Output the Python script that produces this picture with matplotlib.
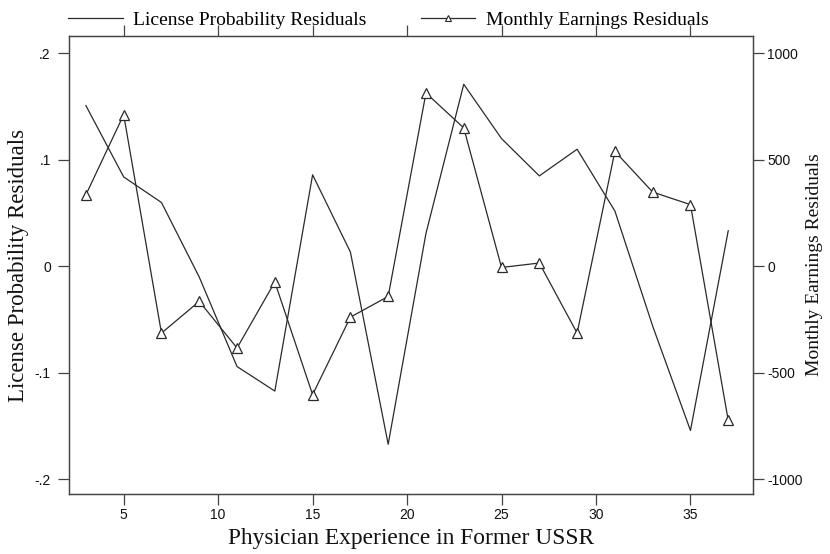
import numpy as np
import matplotlib.pyplot as plt
from matplotlib.lines import Line2D

# datos
experiencia = [3, 5, 7, 9, 11, 13, 15, 17, 19, 21, 23, 25, 27, 29, 31, 33, 35, 37]
licencia = [0.151, 0.084, 0.060, -0.010, -0.094, -0.117, 0.086, 0.0135, -0.167,
            0.031, 0.171, 0.120, 0.085, 0.110, 0.052, -0.056, -0.154, 0.0335]
ingresos = [336, 712, -313, -164, -383, -73, -602, -238, -141,
            814, 650, -5, 16, -313, 540, 349, 290, -723]

yticks_izq = [-0.2, -0.1, 0, 0.1, 0.2]
ylabels_izq = ["-.2", "-.1", "0", ".1", ".2"]
yticks_der = [-1000, -500, 0, 500, 1000]
xticks = [5, 10, 15, 20, 25, 30, 35]

serif = ["Liberation Serif", "DejaVu Serif"]
sans = ["Liberation Sans", "DejaVu Sans"]
color = "#2a2a2a"
plt.rcParams["axes.unicode_minus"] = False

fig = plt.figure(figsize=(8.3, 5.54), dpi=100)
ax = fig.add_axes([0.083, 0.108, 0.824, 0.827])
ax2 = ax.twinx()

ax.plot(experiencia, licencia, color=color, lw=0.9)
ax2.plot(experiencia, ingresos, color=color, lw=0.9, marker="^", ms=7,
         mfc="white", mec=color, mew=0.9)

ax.set_xlim(2.1, 38.3)
ax.set_ylim(-0.2138, 0.2163)
ax2.set_ylim(-1069, 1081.5)

ax.set_xticks(xticks)
ax.set_yticks(yticks_izq)
ax.set_yticklabels(ylabels_izq)
ax2.set_yticks(yticks_der)

for a in (ax, ax2):
    for s in a.spines.values():
        s.set_color("#444444")
        s.set_linewidth(0.9)
    a.tick_params(direction="out", length=8, width=0.9, color="#444444",
                  labelsize=10, labelcolor="#111111")
ax.tick_params(axis="y", pad=5)
ax2.tick_params(axis="y", pad=2.5)
ax.tick_params(axis="x", top=True, labeltop=False, pad=2)
for lab in ax.get_xticklabels() + ax.get_yticklabels() + ax2.get_yticklabels():
    lab.set_family(sans)

ax.set_xlabel("Physician Experience in Former USSR", family=serif, fontsize=16.8,
              color="#111111", labelpad=4)
ax.set_ylabel("License Probability Residuals", family=serif, fontsize=16.5,
              color="#111111", labelpad=4)
ax2.set_ylabel("Monthly Earnings Residuals", family=serif, fontsize=14,
               color="#111111", labelpad=2, rotation=90)

handles = [Line2D([], [], color=color, lw=0.9),
           Line2D([], [], color=color, lw=0.9, marker="^", ms=5,
                  mfc="white", mec=color, mew=0.8)]
fig.legend(handles, ["License Probability Residuals", "Monthly Earnings Residuals"],
           loc="upper left", bbox_to_anchor=(0.082, 0.98), ncol=2, frameon=False,
           prop={"family": serif, "size": 14}, handlelength=2.8,
           columnspacing=2.8, handletextpad=0.55, borderpad=0, borderaxespad=0)

plt.savefig("out.png", dpi=100)
